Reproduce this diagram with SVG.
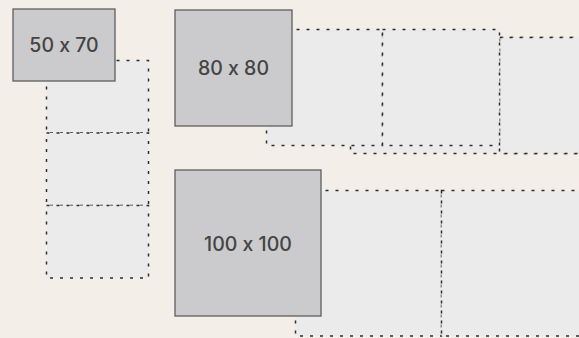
<svg xmlns="http://www.w3.org/2000/svg" width="579" height="338" viewBox="0 0 579 338">
  <style>
    .tile { fill: #ebebeb; stroke: #2e2e2e; stroke-width: 1.5; stroke-dasharray: 3 7; }
    .box { fill: #cbcbcd; stroke: #5f5f5f; stroke-width: 1.3; }
    .lbl { font-family: Inter, "Liberation Sans", sans-serif; font-size: 19.5px; font-weight: 500; fill: #444444; text-anchor: middle; dominant-baseline: central; font-feature-settings: "calt" 0; font-variant-ligatures: no-contextual; }
  </style>
  <rect x="0" y="0" width="579" height="338" fill="#f3efe8"/>

  <g id="tiles-50x70">
    <rect class="tile" x="46.5" y="60.5" width="102" height="72.5"/>
    <rect class="tile" x="46.5" y="133" width="102" height="72.5"/>
    <rect class="tile" x="46.5" y="205.5" width="102" height="72.5"/>
  </g>

  <g id="tiles-80x80">
    <rect class="tile" x="350.5" y="37.5" width="260" height="116"/>
    <rect class="tile" x="499.5" y="37.5" width="116" height="116"/>
    <rect class="tile" x="266.5" y="29.5" width="116" height="116"/>
    <rect class="tile" x="382.5" y="29.5" width="117" height="116"/>
  </g>

  <g id="tiles-100x100">
    <rect class="tile" x="295.5" y="190.5" width="146" height="145.5"/>
    <rect class="tile" x="441.5" y="190.5" width="146" height="145.5"/>
  </g>

  <g id="node-50x70">
    <rect class="box" x="13" y="9" width="102" height="72"/>
    <text class="lbl" x="64" y="45">50 x 70</text>
  </g>

  <g id="node-80x80">
    <rect class="box" x="175" y="10" width="117" height="116"/>
    <text class="lbl" x="233.5" y="68">80 x 80</text>
  </g>

  <g id="node-100x100">
    <rect class="box" x="175" y="170" width="146" height="146"/>
    <text class="lbl" x="248" y="243.5">100 x 100</text>
  </g>
</svg>
